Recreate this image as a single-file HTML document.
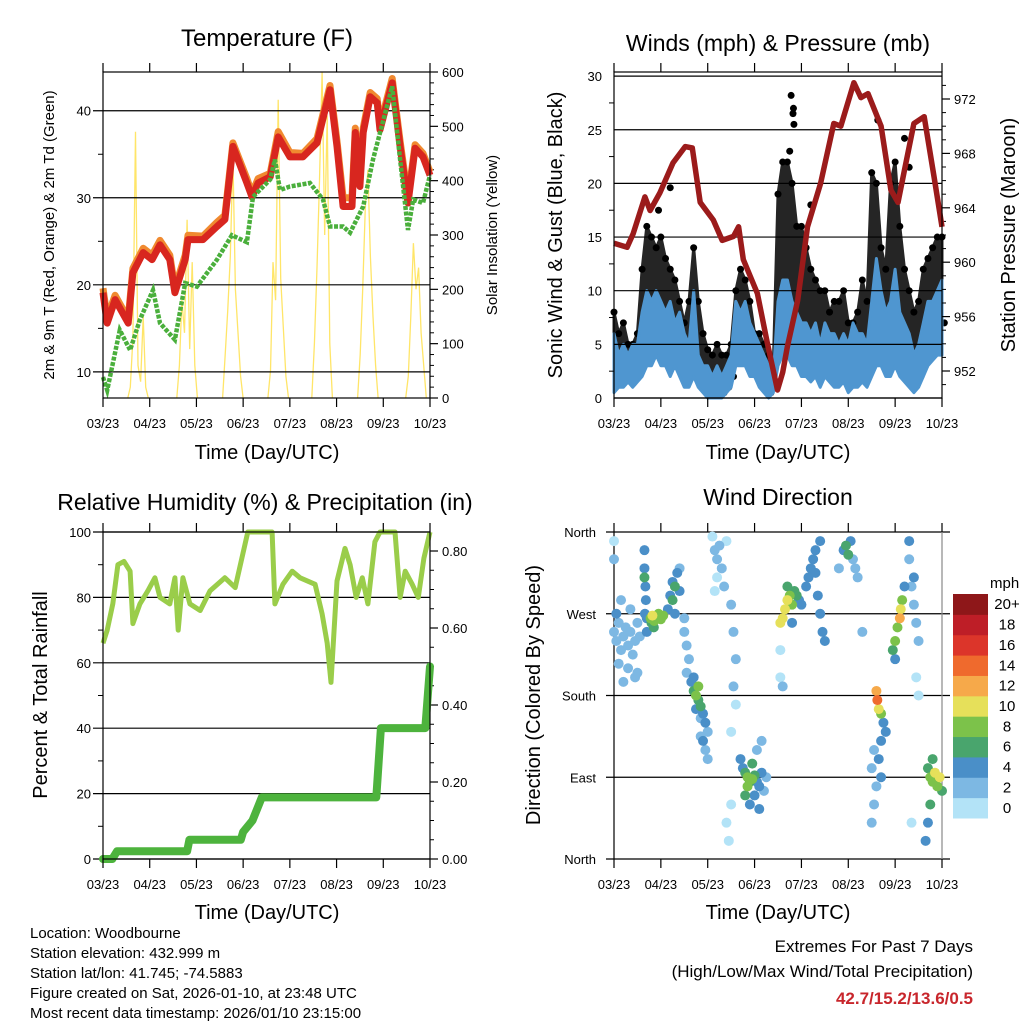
<!DOCTYPE html>
<html><head><meta charset="utf-8"><style>
html,body{margin:0;padding:0;background:#fff;}
svg{display:block;font-family:"Liberation Sans",Arial,sans-serif;}
</style></head><body>
<svg id="c" width="1024" height="1024" viewBox="0 0 1024 1024"></svg>
<script>
// ---------- DATA ----------
const xTickLabels = ["03/23","04/23","05/23","06/23","07/23","08/23","09/23","10/23"];
// Temperature panel
const redT   = [0,0.09,0.26,0.54,0.64,0.86,1.05,1.22,1.43,1.54,1.76,1.82,2.14,2.44,2.61,2.78,3.08,3.19,3.32,3.58,3.75,4.0,4.28,4.58,4.86,5.01,5.14,5.33,5.4,5.5,5.57,5.72,5.87,5.93,6.19,6.36,6.53,6.68,6.85,7.0];
const redV   = [19.1,15.6,18.3,15.6,21.4,23.7,22.9,24.6,22.9,19.1,22.9,25.2,25.2,26.7,27.5,35.9,31.7,30.1,31.7,32.4,37.0,34.7,34.7,36.3,42.4,35.9,29.0,29.0,37.5,31.3,37.5,41.6,40.9,37.8,43.2,35.9,29.4,35.7,34.7,32.6];
const orangeV= [19.6,16.2,18.8,16.1,21.9,24.2,23.4,25.1,23.4,19.6,23.4,25.7,25.6,27.2,28.0,36.3,32.2,30.5,32.2,32.8,37.6,35.2,35.1,36.8,42.9,36.5,30.0,30.0,38.0,32.3,38.0,42.1,41.4,38.3,43.7,36.5,30.0,36.1,35.1,33.0];
const tdT    = [0,0.09,0.36,0.58,0.79,1.07,1.22,1.54,1.76,2.01,2.44,2.76,3.08,3.21,3.58,3.68,3.79,4.0,4.43,4.71,4.86,5.14,5.29,5.57,5.78,6.19,6.36,6.53,6.64,6.85,7.0];
const tdV    = [9.4,7.9,14.8,12.5,16.0,19.4,15.6,13.7,20.2,19.8,22.9,25.7,24.9,30.1,32.1,34.4,30.9,31.3,31.7,29.8,26.7,26.7,26.0,29.0,34.4,42.8,34.4,26.3,29.8,29.4,32.6];
const solarDays = [0.75,1.8,2.78,3.75,4.69,5.67,6.7];
const solarProfiles = [
  [0,20,110,490,60,30,150,20,0],
  [0,60,180,120,328,90,250,60,0],
  [0,80,160,260,444,200,120,40,0],
  [0,50,250,180,549,220,130,40,0],
  [0,100,240,400,600,300,520,100,0],
  [0,80,200,350,420,260,150,60,0],
  [0,40,150,285,200,240,120,60,0]
];
// Winds panel (t = 0..7 step 0.1)
const windHi = [6,4,5,4,5,5, 8,10,9,10, 9,8,9,7,8, 6,5,10, 4,3,3,2,3,2,3,4, 9,8,9,7,6, 5,4,3,2, 9,11,11,9,8, 7,7,6,7,5,7,6, 6,5,6,5,7,6, 6,5,9, 13,10,8,9, 12,8,7, 6,4,5,7, 9,9,10,11];
const windLo = [0.5,1,1,1.5,1,1.5, 2,3,3,4, 3,3,2,3,2, 1,1,2, 1,0.5,0,0,0,0,0.5,1, 3,3,3,2,2, 1,0.5,0,0.5, 3,4,4,3,3, 2,2,1.5,2,1,2,1.5, 1,1,1.5,0.5,1,1, 1.5,1,2, 3,3,2,2, 3,2,1.5, 1,0.5,1,2, 3,3.5,4,4];
const gustHi = [8,6,7,5,5,6, 12,16,15,14, 15,13,12,11,9, 7,9,14, 9,6,4.5,4,5,4,4,5, 10,12,11,9,6, 6,5,4,3, 19,22,22,20,16, 16,14,12,11,10,10,8, 9,9,10,7,7,8, 11,9,21, 20,14,12,20, 22,16,12, 10,8,9,12, 13,14,15,15];
const gustLo = [1.5,2,3,2.5,2,3, 4,5,6,6, 6,5,5,4,4, 2,2,4, 2,1,0.5,0.5,0.5,0.5,1,2, 5,5,4,3,3, 1.5,1,0.5,1, 6,8,8,7,6, 5,5,4,4,3,4,3, 3,3,3,2,2,3, 3,3,4, 5,5,4,4, 5,4,3, 2,1.5,2,3, 6,6,7,7];
const gustOutT = [3.78,3.83,3.82,3.84,3.75,1.2,5.63,6.2,6.3,0.95,4.2];
const gustOutV = [28.2,27.0,26.5,25.5,23.0,19.6,25.9,24.2,21.5,17.5,18.0];
const presT = [0,0.28,0.41,0.66,0.77,0.98,1.26,1.52,1.67,1.84,2.12,2.31,2.55,2.66,2.76,3.06,3.27,3.49,3.6,3.7,3.92,4.13,4.41,4.69,4.84,5.12,5.27,5.42,5.7,5.91,6.06,6.19,6.4,6.62,6.83,7.0];
const presV = [961.4,961.1,962.1,964.8,963.8,965.1,967.3,968.5,968.4,964.4,963.1,961.6,961.9,962.6,960.2,957.7,954.1,950.6,951.9,953.8,957.2,962.6,965.8,970.2,970.0,973.2,972.1,972.4,970.0,965.3,964.4,966.6,970.2,970.7,966.3,962.6];
// RH & precip
const rhT = [0,0.09,0.21,0.32,0.45,0.58,0.64,0.79,0.96,1.11,1.22,1.43,1.54,1.61,1.71,1.86,2.08,2.29,2.61,2.83,3.1,3.62,3.68,3.85,4.05,4.22,4.54,4.69,4.8,4.88,5.01,5.18,5.29,5.42,5.55,5.67,5.82,5.93,6.25,6.36,6.47,6.62,6.75,6.87,7.0];
const rhV = [66,70,78,90,91,88,72,78,82,86,80,78,86,70,86,78,76,82,86,83,100,100,78,84,88,86,84,75,66,54,85,95,90,80,86,78,97,100,100,80,88,84,80,92,100];
const prT = [0,0.2,0.3,1.8,1.85,2.95,3.0,3.2,3.4,5.85,5.95,6.9,7.0];
const prV = [0,0,0.02,0.02,0.05,0.05,0.07,0.1,0.16,0.16,0.34,0.34,0.5];
// Wind direction scatter
const dirT = [0,0.05,0.1,0.15,0.2,0.25,0.3,0.35,0.4,0.45,0.5,0.55,0.1,0.3,0.5,0.05,0.15,0.35,0.2,0.45,0,0,
 0.65,0.65,0.67,0.68,0.66,0.7,0.65,0.7,
 0.78,0.82,0.86,0.9,0.95,1.0,0.85,0.8,1.05,
 1.15,1.2,1.25,1.3,1.35,1.25,1.4,1.3,1.4,
 1.5,1.55,1.6,1.55,1.5,
 1.65,1.7,1.75,1.8,1.85,1.9,1.7,1.8,1.95,1.85,1.75,
 1.9,1.95,2.0,1.85,2.0,
 2.1,2.15,2.2,2.25,2.3,2.35,2.2,2.15,2.4,
 2.5,2.55,2.6,2.55,2.6,2.5,2.5,2.4,2.45,
 2.75,2.8,2.85,2.9,2.95,3.0,3.05,3.1,3.15,3.2,3.25,2.8,2.9,3.0,3.1,2.7,3.05,3.15,2.95,2.85,
 3.55,3.6,3.65,3.7,3.75,3.8,3.85,3.9,3.95,4.0,3.7,3.55,3.55,3.6,3.8,
 4.1,4.15,4.2,4.25,4.3,4.35,4.4,4.45,4.5,4.3,4.4,
 4.9,4.95,5.0,5.05,5.1,5.15,5.2,5.3,4.8,
 5.6,5.62,5.65,5.7,5.75,5.8,5.7,5.55,5.5,5.6,5.55,5.5,5.65,5.7,
 5.95,6.0,6.05,6.1,6.12,6.15,6.0,6.2,
 6.3,6.35,6.4,6.45,6.5,6.3,6.4,6.45,6.35,6.5,
 6.7,6.75,6.8,6.85,6.9,6.95,7.0,6.75,6.8,6.7,6.65];
const dirV = [250,240,260,230,245,255,235,250,225,240,260,245,215,210,205,270,285,275,195,200,330,350,
 340,320,300,285,270,250,310,265,
 265,268,262,266,270,264,255,260,268,
 275,290,305,300,315,285,320,270,295,
 250,235,220,205,265,
 195,185,180,175,168,160,200,190,150,155,165,
 130,120,110,135,140,
 355,340,330,345,320,300,310,295,350,
 280,250,220,190,170,140,60,40,20,
 100,95,90,85,88,92,85,80,95,75,90,70,60,70,55,110,120,130,105,80,
 260,265,275,285,290,280,295,290,285,280,300,230,200,190,260,
 300,310,320,330,315,290,270,250,240,340,350,
 340,345,335,350,330,320,310,250,320,
 185,175,165,160,150,140,130,120,100,80,60,40,110,90,
 230,240,255,265,275,285,220,300,
 330,300,280,260,240,350,310,200,40,180,
 100,90,85,95,80,90,75,60,110,40,20];
const dirS = [2,2,2,2,2,2,2,2,2,2,2,2,2,2,2,4,2,2,2,2,2,1,
 4,4,4,4,4,4,6,4,
 8,10,8,8,8,8,6,6,8,
 4,4,4,6,4,6,2,4,4,
 2,2,2,2,2,
 4,6,8,6,6,4,4,8,4,2,4,
 4,2,2,2,2,
 1,2,2,2,2,2,1,1,1,
 2,2,2,2,1,1,1,1,1,
 4,6,8,6,8,6,4,4,4,2,2,6,4,4,4,4,2,2,6,8,
 10,10,10,10,8,8,6,6,4,4,6,1,1,2,4,
 4,4,4,4,4,4,4,4,4,4,4,
 4,6,6,4,2,2,2,2,2,
 12,14,10,8,4,4,4,2,2,2,2,2,4,4,
 6,8,8,12,10,8,4,4,
 2,2,2,2,2,4,4,1,1,1,
 6,8,8,10,8,10,6,6,6,4,4];
const cbLabels = ["0","2","4","6","8","10","12","14","16","18","20+"];
const cbColors = ["#b3e3f7","#7db8e3","#4a8fc8","#49a56d","#7cc24a","#e6e05a","#f6a94a","#ef6a2d","#dc352a","#be1e27","#8e1719"];

// ---------- HELPERS ----------
const NS="http://www.w3.org/2000/svg";
const svg=document.getElementById('c');
function mk(tag,attrs,parent){const e=document.createElementNS(NS,tag);for(const k in attrs)e.setAttribute(k,attrs[k]);(parent||svg).appendChild(e);return e;}
function txt(s,x,y,size,anchor,parent,extra){const e=mk('text',Object.assign({x:x,y:y,'font-size':size,'text-anchor':anchor||'middle',fill:'#000'},extra||{}),parent);e.textContent=s;return e;}
function lin(x1,y1,x2,y2,w,c,parent){return mk('line',{x1:x1,y1:y1,x2:x2,y2:y2,stroke:c||'#000','stroke-width':w||1},parent);}

function frame(g,L,R,T,B){
  mk('rect',{x:L,y:T,width:R-L,height:B-T,fill:'none',stroke:'#000','stroke-width':1.2},g);
  for(let i=0;i<xTickLabels.length;i++){
    const x=L+i*(R-L)/7;
    lin(x,T,x,T-9,1.2,'#000',g);
    lin(x,B,x,B+9,1.2,'#000',g);
    const t=txt(xTickLabels[i],x,B+30,13,'middle',g);
    
    
  }
}
function leftAxis(g,L,R,ys,labels,minorYs,gridFrom){
  ys.forEach((y,i)=>{
    lin(gridFrom,y,R,y,1.2,'#000',g);
    const t=txt(labels[i],L-12,y+5,13,'end',g);
    
    
  });
  minorYs.forEach(y=>lin(L,y,L-5,y,1,'#000',g));
}
function rightAxis(g,R,ys,labels,minorYs){
  ys.forEach((y,i)=>{
    lin(R,y,R+8,y,1.2,'#000',g);
    const t=txt(labels[i],R+12,y+5,13,'start',g);
    
    
  });
  minorYs.forEach(y=>lin(R,y,R+4,y,1,'#000',g));
}
function path(pts){return pts.map((p,i)=>(i?'L':'M')+p[0].toFixed(1)+','+p[1].toFixed(1)).join('');}

// ---------- PANEL 1: TEMPERATURE ----------
(function(){
  const g=mk('g',{});
  
  
  const L=103,R=430,T=72,B=398;
  const xs=t=>L+t*(R-L)/7;
  const ys=v=>B-(v-7)*(B-T)/(44.45-7);
  const ySol=v=>B-v*(B-T)/600;
  solarDays.forEach((d,k)=>{
    const pts=solarProfiles[k].map((v,i)=>[xs(d+(i-4)*0.055),ySol(v)]);
    const p=mk('path',{d:path(pts),fill:'none',stroke:'#ffe14d','stroke-width':1.3,opacity:0.85},g);
    
    
  });
  const gy=[],gl=[],mn=[];
  [10,20,30,40].forEach(v=>{gy.push(ys(v));gl.push(String(v));});
  [15,25,35].forEach(v=>mn.push(ys(v)));
  leftAxis(g,L,R,gy,gl,mn,L-10);
  const ry=[],rl=[],rm=[];
  for(let v=0;v<=600;v+=100){ry.push(ySol(v));rl.push(String(v));}
  for(let v=20;v<600;v+=20){if(v%100)rm.push(ySol(v));}
  rightAxis(g,R,ry,rl,rm);
  const o=mk('path',{d:path(redT.map((t,i)=>[xs(t),ys(orangeV[i])])),fill:'none',stroke:'#f08a30','stroke-width':7,'stroke-linejoin':'round'},g);
  
  
  const r=mk('path',{d:path(redT.map((t,i)=>[xs(t),ys(redV[i])])),fill:'none',stroke:'#d8261f','stroke-width':7,'stroke-linejoin':'round'},g);
  
  
  const gr=mk('path',{d:path(tdT.map((t,i)=>[xs(t),ys(tdV[i])])),fill:'none',stroke:'#4aaf3c','stroke-width':4.5,'stroke-dasharray':'4 1.5'},g);
  
  
  frame(g,L,R,T,B);
  const t1=txt('Temperature (F)',267,46,24,'middle',g);
  
  
  const xt=txt('Time (Day/UTC)',267,459,20,'middle',g);
  
  
  const yl=txt('2m & 9m T (Red, Orange) & 2m Td (Green)',0,0,15,'middle',g,{transform:'translate(54,235) rotate(-90)'});
  
  
  const yr=txt('Solar Insolation (Yellow)',0,0,15,'middle',g,{transform:'translate(497,235) rotate(-90)'});
  
  
})();

// ---------- PANEL 2: WINDS ----------
(function(){
  const g=mk('g',{});
  
  
  const L=614,R=942,T=72,B=398;
  const xs=t=>L+t*(R-L)/7;
  const ys=v=>B-v*10.73;
  const yp=v=>371-(v-952)*13.6;
  const n=windHi.length;
  const tt=i=>i*0.1;
  let pts=[];for(let i=0;i<n;i++)pts.push([xs(tt(i)),ys(gustHi[i])]);
  for(let i=n-1;i>=0;i--)pts.push([xs(tt(i)),ys(gustLo[i])]);
  const gb=mk('path',{d:path(pts)+'Z',fill:'#000',stroke:'#000','stroke-width':3,'stroke-linejoin':'round',opacity:0.85},g);
  
  
  for(let i=0;i<n;i++){
    const d=mk('circle',{cx:xs(tt(i)),cy:ys(gustHi[i]),r:3.5,fill:'#000'},g);
    
    
    const d2=mk('circle',{cx:xs(tt(i)+0.05),cy:ys(gustLo[i]),r:3.5,fill:'#000'},g);
    
    
  }
  gustOutT.forEach((t,i)=>{
    const d=mk('circle',{cx:xs(t),cy:ys(gustOutV[i]),r:3.5,fill:'#000'},g);
    
    
  });
  pts=[];for(let i=0;i<n;i++)pts.push([xs(tt(i)),ys(windHi[i])]);
  for(let i=n-1;i>=0;i--)pts.push([xs(tt(i)),ys(windLo[i])]);
  const wb=mk('path',{d:path(pts)+'Z',fill:'#4f96d0',stroke:'#4f96d0','stroke-width':3,'stroke-linejoin':'round'},g);
  
  
  const gy=[],gl=[],mn=[];
  for(let v=0;v<=30;v+=5){gy.push(ys(v));gl.push(String(v));}
  for(let v=2.5;v<30;v+=5)mn.push(ys(v));
  leftAxis(g,L,R,gy,gl,mn,L);
  const ry=[],rl=[],rm=[];
  for(let v=952;v<=972;v+=4){ry.push(yp(v));rl.push(String(v));}
  for(let v=951;v<=973;v++){if((v-952)%4)rm.push(yp(v));}
  rightAxis(g,R,ry,rl,rm);
  const p=mk('path',{d:path(presT.map((t,i)=>[xs(t),yp(presV[i])])),fill:'none',stroke:'#9b1b1b','stroke-width':5.5,'stroke-linejoin':'round'},g);
  
  
  frame(g,L,R,T,B);
  const t1=txt('Winds (mph) & Pressure (mb)',778,51,23,'middle',g);
  
  
  const xt=txt('Time (Day/UTC)',778,459,20,'middle',g);
  
  
  const yl=txt('Sonic Wind & Gust (Blue, Black)',0,0,20,'middle',g,{transform:'translate(562,235) rotate(-90)'});
  
  
  const yr=txt('Station Pressure (Maroon)',0,0,20,'middle',g,{transform:'translate(1015,235) rotate(-90)'});
  
  
})();

// ---------- PANEL 3: RH & PRECIP ----------
(function(){
  const g=mk('g',{});
  
  
  const L=103,R=430,T=532,B=859;
  const xs=t=>L+t*(R-L)/7;
  const ys=v=>B-v*(B-T)/100;
  const yr=v=>B-v*385;
  const gy=[],gl=[],mn=[];
  for(let v=0;v<=100;v+=20){gy.push(ys(v));gl.push(String(v));}
  for(let v=10;v<100;v+=20)mn.push(ys(v));
  leftAxis(g,L,R,gy,gl,mn,L-10);
  const ry=[],rl=[],rm=[];
  for(let v=0;v<=0.8001;v+=0.2){ry.push(yr(v));rl.push(v.toFixed(2));}
  for(let v=0.05;v<0.85;v+=0.05){if(Math.abs(v/0.2-Math.round(v/0.2))>0.01)rm.push(yr(v));}
  rightAxis(g,R,ry,rl,rm);
  const rh=mk('path',{d:path(rhT.map((t,i)=>[xs(t),ys(rhV[i])])),fill:'none',stroke:'#9acd4a','stroke-width':5,'stroke-linejoin':'round'},g);
  
  
  const pr=mk('path',{d:path(prT.map((t,i)=>[xs(t),yr(prV[i])])),fill:'none',stroke:'#4db33d','stroke-width':8,'stroke-linejoin':'round','stroke-linecap':'round'},g);
  
  
  frame(g,L,R,T,B);
  const t1=txt('Relative Humidity (%) & Precipitation (in)',265,510,23,'middle',g);
  
  
  const xt=txt('Time (Day/UTC)',267,919,20,'middle',g);
  
  
  const yl=txt('Percent & Total Rainfall',0,0,20,'middle',g,{transform:'translate(47,695) rotate(-90)'});
  
  
})();

// ---------- PANEL 4: WIND DIRECTION ----------
(function(){
  const g=mk('g',{});
  
  
  const L=614,R=942,T=532,B=859;
  const xs=t=>L+t*(R-L)/7;
  const ys=v=>B-v*(B-T)/360;
  const names=["North","East","South","West","North"];
  [0,90,180,270,360].forEach((v,i)=>{
    lin(L-8,ys(v),R+8,ys(v),1.2,'#000',g);
    const t=txt(names[i],596,ys(v)+5,13,'end',g);
    
    
  });
  lin(L,T,L,B,1.2,'#000',g);
  lin(R,T,R,B,1.2,'#888',g);
  for(let i=0;i<xTickLabels.length;i++){
    const x=L+i*(R-L)/7;
    lin(x,T,x,T-9,1.2,'#000',g);lin(x,B,x,B+9,1.2,'#000',g);
    const t=txt(xTickLabels[i],x,B+30,13,'middle',g);
    
    
  }
  const order=dirS.map((s,i)=>i).sort((a,b)=>dirS[a]-dirS[b]);
  order.forEach(i=>{
    const c=cbColors[Math.min(10,Math.floor(dirS[i]/2))];
    const d=mk('circle',{cx:xs(dirT[i]),cy:ys(dirV[i]),r:5,fill:c},g);
    
    
  });
  const cbTop=594,cbH=224/11;
  for(let k=0;k<11;k++){
    const y=cbTop+(10-k)*cbH;
    const r=mk('rect',{x:953,y:y,width:35,height:cbH+0.5,fill:cbColors[k]},g);
    
    
    const t=txt(cbLabels[k],1007,y+cbH/2+5,15,'middle',g);
    
    
  }
  const u=txt('mph',990,588,15,'start',g);
  
  
  const t1=txt('Wind Direction',778,505,23,'middle',g);
  
  
  const xt=txt('Time (Day/UTC)',778,919,20,'middle',g);
  
  
  const yl=txt('Direction (Colored By Speed)',0,0,20,'middle',g,{transform:'translate(540,695) rotate(-90)'});
  
  
})();

// ---------- FOOTER ----------
(function(){
  const lines=["Location: Woodbourne","Station elevation: 432.999 m","Station lat/lon: 41.745; -74.5883","Figure created on Sat, 2026-01-10, at 23:48 UTC","Most recent data timestamp: 2026/01/10 23:15:00"];
  lines.forEach((s,i)=>{
    const t=txt(s,30,938+i*20,15,'start');
    
    
  });
  const a=txt('Extremes For Past 7 Days',973,952,17,'end');
  
  
  const b=txt('(High/Low/Max Wind/Total Precipitation)',973,977,17,'end');
  
  
  const c=txt('42.7/15.2/13.6/0.5',973,1004,17,'end',null,{fill:'#c8262c','font-weight':'bold'});
  
  
})();
</script>
</body></html>
